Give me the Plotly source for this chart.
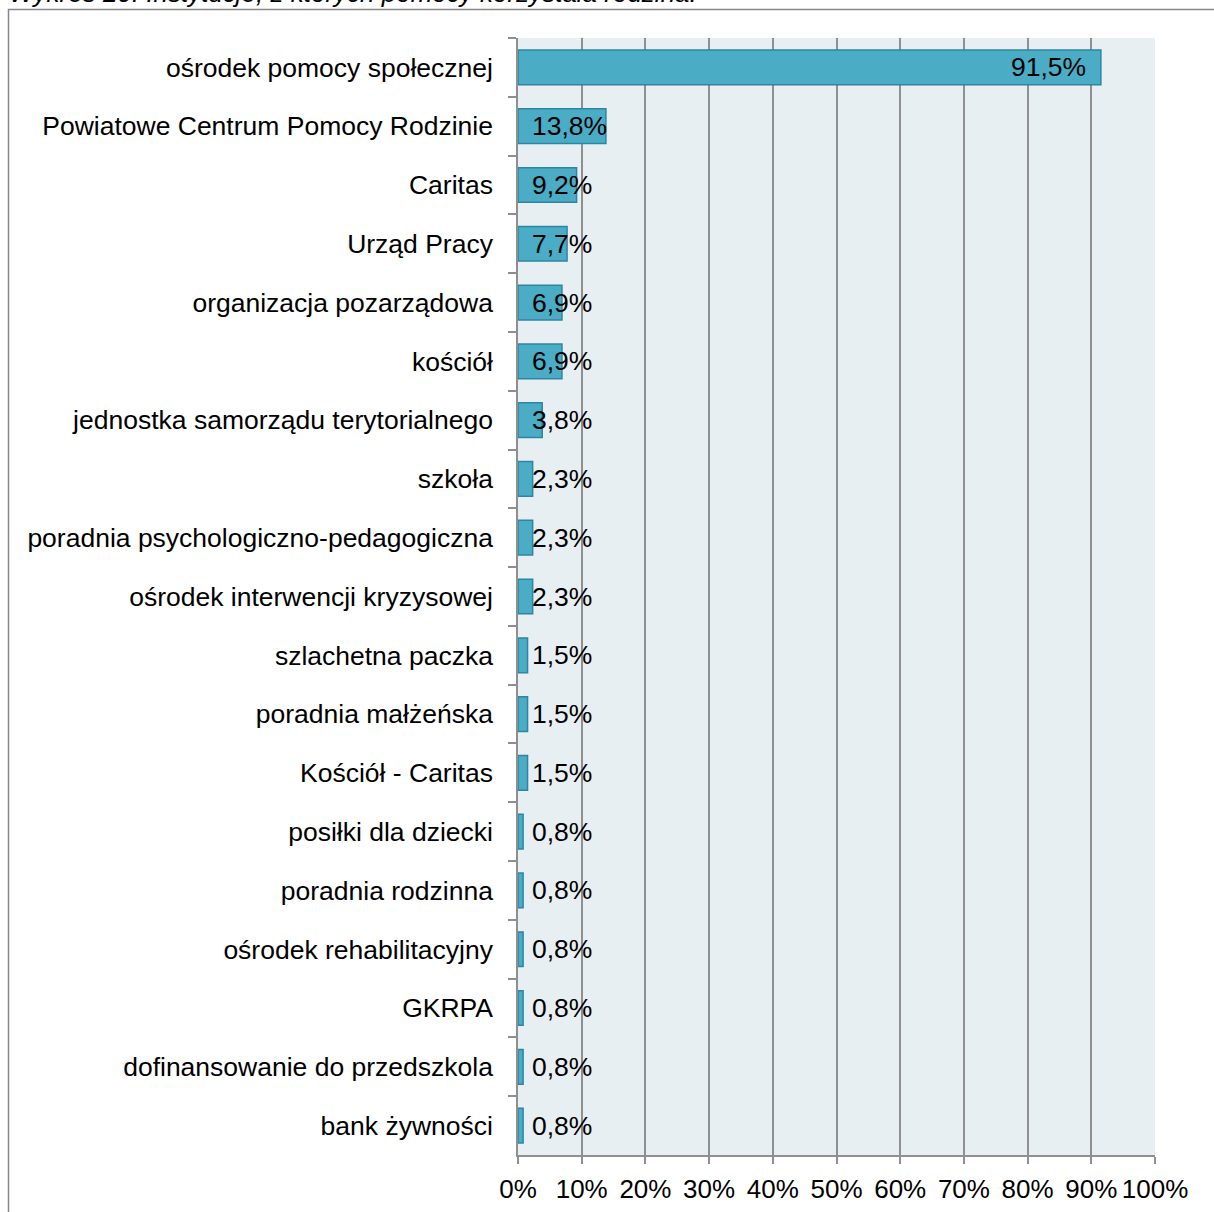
import plotly.graph_objects as go

categories = [
    "ośrodek pomocy społecznej",
    "Powiatowe Centrum Pomocy Rodzinie",
    "Caritas",
    "Urząd Pracy",
    "organizacja pozarządowa",
    "kościół",
    "jednostka samorządu terytorialnego",
    "szkoła",
    "poradnia psychologiczno-pedagogiczna",
    "ośrodek interwencji kryzysowej",
    "szlachetna paczka",
    "poradnia małżeńska",
    "Kościół - Caritas",
    "posiłki dla dziecki",
    "poradnia rodzinna",
    "ośrodek rehabilitacyjny",
    "GKRPA",
    "dofinansowanie do przedszkola",
    "bank żywności",
]
values = [91.5, 13.8, 9.2, 7.7, 6.9, 6.9, 3.8, 2.3, 2.3, 2.3,
          1.5, 1.5, 1.5, 0.8, 0.8, 0.8, 0.8, 0.8, 0.8]
x_ticks = [0, 10, 20, 30, 40, 50, 60, 70, 80, 90, 100]
x_tick_text = [f"{t}%" for t in x_ticks]
title_text = "Wykres 20. Instytucje, z których pomocy korzystała rodzina."

FONT = "Liberation Sans, Arial, sans-serif"

W, H = 1214, 1212
ml, mr, mt, mb = 518, 59, 38, 57
pw, ph = W - ml - mr, H - mt - mb

def px2paper_x(px):
    return (px - ml) / pw

def px2paper_y(py):
    return 1 - (py - mt) / ph

fig = go.Figure()
fig.add_trace(go.Bar(
    x=values, y=categories, orientation="h",
    marker=dict(color="#4BACC6", line=dict(color="#2C86A2", width=1.5)),
    hoverinfo="x+y",
))

annotations = []
for c, v in zip(categories, values):
    label = f"{v:.1f}".replace(".", ",") + "%"
    if v > 50:
        annotations.append(dict(x=v, y=c, xref="x", yref="y", text=label,
                                showarrow=False, xanchor="right", xshift=-13,
                                font=dict(family=FONT, size=26.5, color="#000")))
    else:
        annotations.append(dict(x=0, y=c, xref="x", yref="y", text=label,
                                showarrow=False, xanchor="left", xshift=12,
                                font=dict(family=FONT, size=26.5, color="#000")))

annotations.append(dict(x=px2paper_x(7), y=px2paper_y(-7), xref="paper", yref="paper",
                        text="<i>" + title_text + "</i>", showarrow=False,
                        xanchor="left", yanchor="middle",
                        font=dict(family=FONT, size=26, color="#000")))

fig.update_layout(
    width=W, height=H,
    margin=dict(l=ml, r=mr, t=mt, b=mb, pad=0, autoexpand=False),
    paper_bgcolor="white",
    plot_bgcolor="#E8EFF3",
    bargap=0.41,
    showlegend=False,
    font=dict(family=FONT, size=26, color="#000"),
    annotations=annotations,
    shapes=[dict(type="rect", xref="paper", yref="paper",
                 x0=px2paper_x(8.5), x1=px2paper_x(1240),
                 y0=px2paper_y(9.5), y1=px2paper_y(1240),
                 line=dict(color="#878787", width=1.5), fillcolor="rgba(0,0,0,0)",
                 layer="below")],
    xaxis=dict(
        range=[0, 100], tickvals=x_ticks, ticktext=x_tick_text,
        showgrid=True, gridcolor="#8F8F8F", gridwidth=1.5,
        zeroline=False, showline=True, linecolor="#8F8F8F", linewidth=1.5,
        ticks="outside", ticklen=7, tickcolor="#8F8F8F", tickwidth=1.5,
        tickfont=dict(family=FONT, size=26, color="#000"),
        ticklabelstandoff=3, automargin=False,
        fixedrange=True,
    ),
    yaxis=dict(
        type="category", autorange="reversed",
        showgrid=False, zeroline=False,
        showline=True, linecolor="#8F8F8F", linewidth=1.5,
        ticks="outside", ticklen=8, tickcolor="#8F8F8F", tickwidth=1.5,
        tickson="boundaries",
        tickfont=dict(family=FONT, size=26.5, color="#000"),
        ticklabelstandoff=18, automargin=False,
        fixedrange=True,
    ),
)

fig.write_html("out.html",
               config={"displayModeBar": False},
               post_script="document.body.style.margin='0';document.body.style.overflow='hidden';")
